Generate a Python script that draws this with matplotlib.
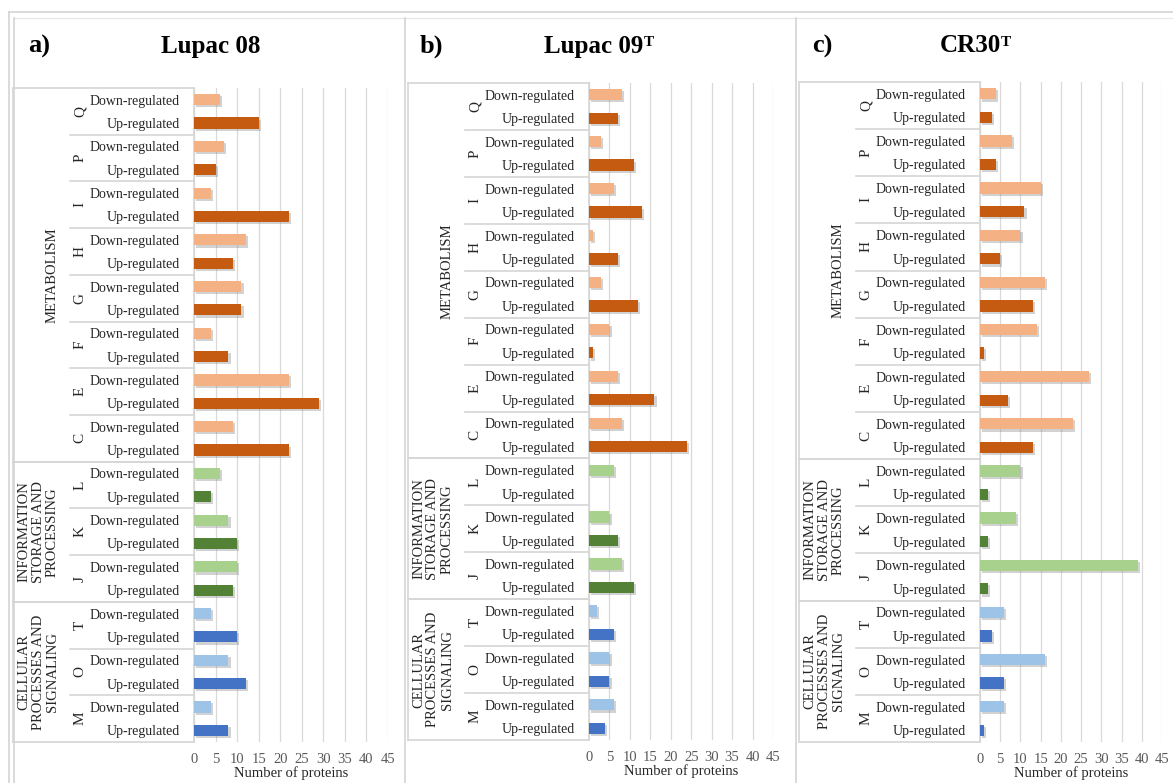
import matplotlib
matplotlib.use("Agg")
import matplotlib.pyplot as plt
from matplotlib.transforms import blended_transform_factory
from matplotlib.lines import Line2D
import matplotlib.patheffects as pe

plt.rcParams['font.family'] = ['Liberation Serif', 'DejaVu Serif']

# ---------------- data ----------------
letters = ['Q', 'P', 'I', 'H', 'G', 'F', 'E', 'C', 'L', 'K', 'J', 'T', 'O', 'M']
group_names = ['METABOLISM', 'INFORMATION\nSTORAGE AND\nPROCESSING',
               'CELLULAR\nPROCESSES AND\nSIGNALING']
group_sizes = [8, 3, 3]
row_labels = ['Down-regulated', 'Up-regulated']
x_ticks = [0, 5, 10, 15, 20, 25, 30, 35, 40, 45]

panel_letters = ['a)', 'b)', 'c)']
panel_names = ['Lupac 08', 'Lupac 09', 'CR30']
panel_sup = ['', 'T', 'T']

a_down = [6, 7, 4, 12, 11, 4, 22, 9, 6, 8, 10, 4, 8, 4]
a_up = [15, 5, 22, 9, 11, 8, 29, 22, 4, 10, 9, 10, 12, 8]
b_down = [8, 3, 6, 1, 3, 5, 7, 8, 6, 5, 8, 2, 5, 6]
b_up = [7, 11, 13, 7, 12, 1, 16, 24, 0, 7, 11, 6, 5, 4]
c_down = [4, 8, 15, 10, 16, 14, 27, 23, 10, 9, 39, 6, 16, 6]
c_up = [3, 4, 11, 5, 13, 1, 7, 13, 2, 2, 2, 3, 6, 1]

down_sets = [a_down, b_down, c_down]
up_sets = [a_up, b_up, c_up]

# group colours (down, up)
group_colors = [('#F4B183', '#C55A11'), ('#A9D18E', '#538135'), ('#9DC3E6', '#4472C4')]

# ---------------- layout (pixels) ----------------
W, H = 1173, 783
fig = plt.figure(figsize=(W / 100, H / 100), dpi=100)
fig.patch.set_facecolor('white')

# (x0 px, x45 px, top px, bottom px, title letter x, title center x)
panels = [
    (194, 388, 88, 742, 22, 211),
    (589, 773, 83, 740, 414, 594),
    (980, 1162, 82, 742, 806, 970),
]

def fx(px):
    return px / W

def fy(py):
    return 1 - py / H

overlay = fig.add_axes([0, 0, 1, 1])
overlay.set_xlim(0, W)
overlay.set_ylim(H, 0)
overlay.axis('off')
overlay.set_zorder(-1)

frame_c = '#d4d4d4'
# outer frame
overlay.plot([9, W], [12, 12], color=frame_c, lw=1.2)
overlay.plot([9, 9], [12, H], color=frame_c, lw=1.2)
# inner panel boxes
overlay.plot([14, W], [18, 18], color='#e6e6e6', lw=0.8)
for xb in [14, 405, 796]:
    overlay.plot([xb, xb], [18, H], color=frame_c, lw=1.2)

line_c = '#d6d6d6'
tick_c = '#595959'
text_c = '#262626'

for p, (x0, x45, top, bot, tlx, tcx) in enumerate(panels):
    ax = fig.add_axes([fx(x0), fy(bot), fx(x45 - x0), (bot - top) / H])
    downs = down_sets[p]
    ups = up_sets[p]
    gi = []
    for g, n in enumerate(group_sizes):
        gi += [g] * n
    ys_down = [2 * i for i in range(len(letters))]
    ys_up = [2 * i + 1 for i in range(len(letters))]
    cd = [group_colors[g][0] for g in gi]
    cu = [group_colors[g][1] for g in gi]
    shadow = [pe.SimplePatchShadow(offset=(1.5, -1.5), shadow_rgbFace='#7f7f7f', alpha=0.35), pe.Normal()]
    bd = ax.barh(ys_down, downs, height=0.48, color=cd, zorder=3)
    bu = ax.barh(ys_up, ups, height=0.48, color=cu, zorder=3)
    for b in list(bd) + list(bu):
        if b.get_width() > 0:
            b.set_path_effects(shadow)

    ax.set_xlim(0, 45)
    ax.set_ylim(27.5, -0.5)
    ax.set_xticks(x_ticks)
    ax.set_xticklabels([str(t) for t in x_ticks])
    ticks_y = list(range(2 * len(letters)))
    ax.set_yticks(ticks_y)
    ax.set_yticklabels([row_labels[i % 2] for i in ticks_y])
    ax.tick_params(axis='y', length=0, pad=10, labelsize=10, labelcolor=text_c)
    ax.tick_params(axis='x', length=0, pad=8, labelsize=10.5, labelcolor=tick_c)
    ax.grid(axis='x', color='#d9d9d9', lw=0.9, zorder=0)
    ax.set_axisbelow(True)
    for s in ['top', 'right', 'bottom']:
        ax.spines[s].set_visible(False)
    ax.spines['left'].set_color(line_c)
    ax.spines['left'].set_linewidth(1.2)
    ax.set_xlabel('Number of proteins', fontsize=10.5, color=text_c, labelpad=0)

    tr = blended_transform_factory(fig.transFigure, ax.transData)
    left_px = x0 - 181
    sep_px = x0 - 124
    # group separators (full table width) and letter separators
    start = 0
    bounds = []
    for g, n in enumerate(group_sizes):
        bounds.append((start, start + n))
        start += n
    for (s, e) in bounds:
        for k in [s, e]:
            y = 2 * k - 0.5
            fig.add_artist(Line2D([fx(left_px), fx(x0)], [y, y], transform=tr,
                                  color=line_c, lw=1.2))
        for k in range(s + 1, e):
            y = 2 * k - 0.5
            fig.add_artist(Line2D([fx(sep_px), fx(x0)], [y, y], transform=tr,
                                  color=line_c, lw=1.2))
    fig.add_artist(Line2D([fx(left_px), fx(left_px)], [-0.5, 27.5], transform=tr,
                          color=line_c, lw=1.2))

    # letters
    for i, L in enumerate(letters):
        fig.text(fx(x0 - 114), 2 * i + 0.5, L, transform=tr, rotation=90,
                 ha='center', va='center', fontsize=11, color=text_c)
    # group names
    for g, (s, e) in enumerate(bounds):
        yc = (2 * s + 2 * e - 1) / 2
        xoff = 142 if '\n' not in group_names[g] else 156
        fig.text(fx(x0 - xoff), yc, group_names[g], transform=tr, rotation=90,
                 ha='center', va='center', multialignment='center',
                 fontsize=10.5, color=text_c, linespacing=1.15)

    # titles
    overlay.text(tlx + 6, 46, panel_letters[p], ha='left', va='center',
                 fontsize=19, fontweight='bold', color='black')
    t = overlay.text(tcx, 46, panel_names[p], ha='center', va='center',
                     fontsize=18, fontweight='bold', color='black')
    if panel_sup[p]:
        overlay.annotate(panel_sup[p], xy=(1, 0.95), xycoords=t, ha='left', va='top',
                         fontsize=11, fontweight='bold', color='black')

fig.savefig('out.png', dpi=100, facecolor='white')
